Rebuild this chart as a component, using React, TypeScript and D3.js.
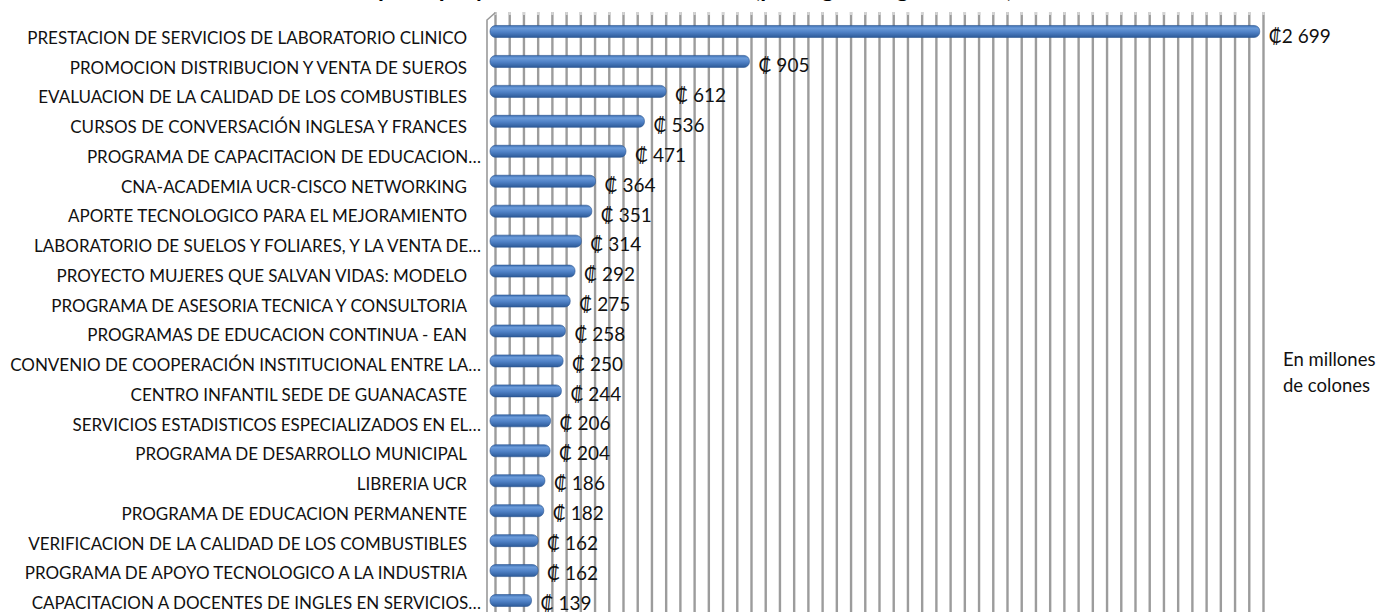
import React from 'react';
import * as d3 from 'd3';

// proyectos (orden del gráfico, de mayor a menor)
const categories = [
  'PRESTACION DE SERVICIOS DE LABORATORIO CLINICO',
  'PROMOCION DISTRIBUCION Y VENTA DE SUEROS',
  'EVALUACION DE LA CALIDAD DE LOS COMBUSTIBLES',
  'CURSOS DE CONVERSACIÓN INGLESA Y FRANCES',
  'PROGRAMA DE CAPACITACION DE EDUCACION…',
  'CNA-ACADEMIA UCR-CISCO NETWORKING',
  'APORTE TECNOLOGICO PARA EL MEJORAMIENTO',
  'LABORATORIO DE SUELOS Y FOLIARES, Y LA VENTA DE…',
  'PROYECTO MUJERES QUE SALVAN VIDAS: MODELO',
  'PROGRAMA DE ASESORIA TECNICA Y CONSULTORIA',
  'PROGRAMAS DE EDUCACION CONTINUA - EAN',
  'CONVENIO DE COOPERACIÓN INSTITUCIONAL ENTRE LA…',
  'CENTRO INFANTIL SEDE DE GUANACASTE',
  'SERVICIOS ESTADISTICOS ESPECIALIZADOS EN EL…',
  'PROGRAMA DE DESARROLLO MUNICIPAL',
  'LIBRERIA UCR',
  'PROGRAMA DE EDUCACION PERMANENTE',
  'VERIFICACION DE LA CALIDAD DE LOS COMBUSTIBLES',
  'PROGRAMA DE APOYO TECNOLOGICO A LA INDUSTRIA',
  'CAPACITACION A DOCENTES DE INGLES EN SERVICIOS…',
];

// ingresos en millones de colones
const values = [2699, 905, 612, 536, 471, 364, 351, 314, 292, 275, 258, 250, 244, 206, 204, 186, 182, 162, 162, 139];

const valueLabels = ['₡2 699', '₡ 905', '₡ 612', '₡ 536', '₡ 471', '₡ 364', '₡ 351', '₡ 314', '₡ 292', '₡ 275',
  '₡ 258', '₡ 250', '₡ 244', '₡ 206', '₡ 204', '₡ 186', '₡ 182', '₡ 162', '₡ 162', '₡ 139'];

const title = 'Principales proyectos de vínculo externo (por ingresos generados)';
const unitNote = ['En millones', 'de colones'];

const W = 1384;
const H = 612;
const FONT = 'Lato, "Open Sans", sans-serif';

export default function App() {
  const x = d3.scaleLinear().domain([0, 2700]).range([492, 1260]);
  const y = d3.scaleBand<string>().domain(categories).range([16.5, 16.5 + 20 * 29.95]).paddingInner(0);
  // las etiquetas no siguen exactamente el paso de las barras
  const yLab = d3.scalePoint<string>().domain(categories).range([38, 603]);
  const yVal = d3.scalePoint<string>().domain(categories).range([36, 603]);
  const gridVals = d3.range(0, 2701, 50);
  const depth = 3.5; // desplazamiento de la pared de fondo (efecto 3D)
  const barH = 12;

  return (
    <div style={{ position: 'absolute', left: 0, top: 0 }}>
      <svg width={W} height={H} style={{ display: 'block', background: '#fff' }}>
        <defs>
          <linearGradient id="barGrad" x1="0" y1="0" x2="0" y2="1">
            <stop offset="0%" stopColor="#3a6cb0" />
            <stop offset="22%" stopColor="#6b9bd9" />
            <stop offset="55%" stopColor="#4f81c6" />
            <stop offset="100%" stopColor="#2c5a98" />
          </linearGradient>
        </defs>

        <text x={665} y={-3} textAnchor="middle" fontFamily={FONT} fontSize={24} fontWeight="bold" fill="#000">
          {title}
        </text>

        {/* rejilla de fondo */}
        <g>
          {gridVals.map(v => (
            <g key={v}>
              <line x1={x(v) + depth} x2={x(v) + depth} y1={12} y2={H} stroke="#9c9c9c" strokeWidth={2.4} />
              <line x1={x(v) + depth} x2={x(v) + depth} y1={12} y2={15} stroke="#d4d4d4" strokeWidth={2.4} />
            </g>
          ))}
        </g>

        {/* pared izquierda */}
        <path
          d={`M${x(0) - 5},${H} L${x(0) - 5},20 L${x(0) + depth},12.5`}
          fill="none"
          stroke="#9a9a9a"
          strokeWidth={1.6}
        />

        {/* barras */}
        <g>
          {categories.map((c, i) => {
            const cy = (y(c) as number) + y.bandwidth() / 2;
            const x0 = x(0) - 2;
            return (
              <rect
                key={c}
                x={x0}
                y={cy - barH / 2}
                width={x(values[i]) - x0}
                height={barH}
                rx={5.5}
                ry={5.5}
                fill="url(#barGrad)"
                stroke="#2b5590"
                strokeWidth={0.6}
              />
            );
          })}
        </g>

        {/* etiquetas de categoría */}
        <g fontFamily={FONT} fontSize={17} fill="#111">
          {categories.map(c => {
            const ell = c.endsWith('…');
            return (
              <text key={c} x={ell ? 481 : 467} y={(yLab(c) as number) + 6}>
                <tspan textAnchor="end">{c}</tspan>
              </text>
            );
          })}
        </g>

        {/* etiquetas de valor */}
        <g fontFamily={FONT} fontSize={19} fill="#111">
          {categories.map((c, i) => (
            <text key={c} x={x(values[i]) + 9} y={(yVal(c) as number) + 6.5}>
              {valueLabels[i]}
            </text>
          ))}
        </g>

        <g fontFamily={FONT} fontSize={18.5} fill="#111">
          {unitNote.map((t, i) => (
            <text key={t} x={1283} y={366 + i * 26}>
              {t}
            </text>
          ))}
        </g>
      </svg>
    </div>
  );
}
